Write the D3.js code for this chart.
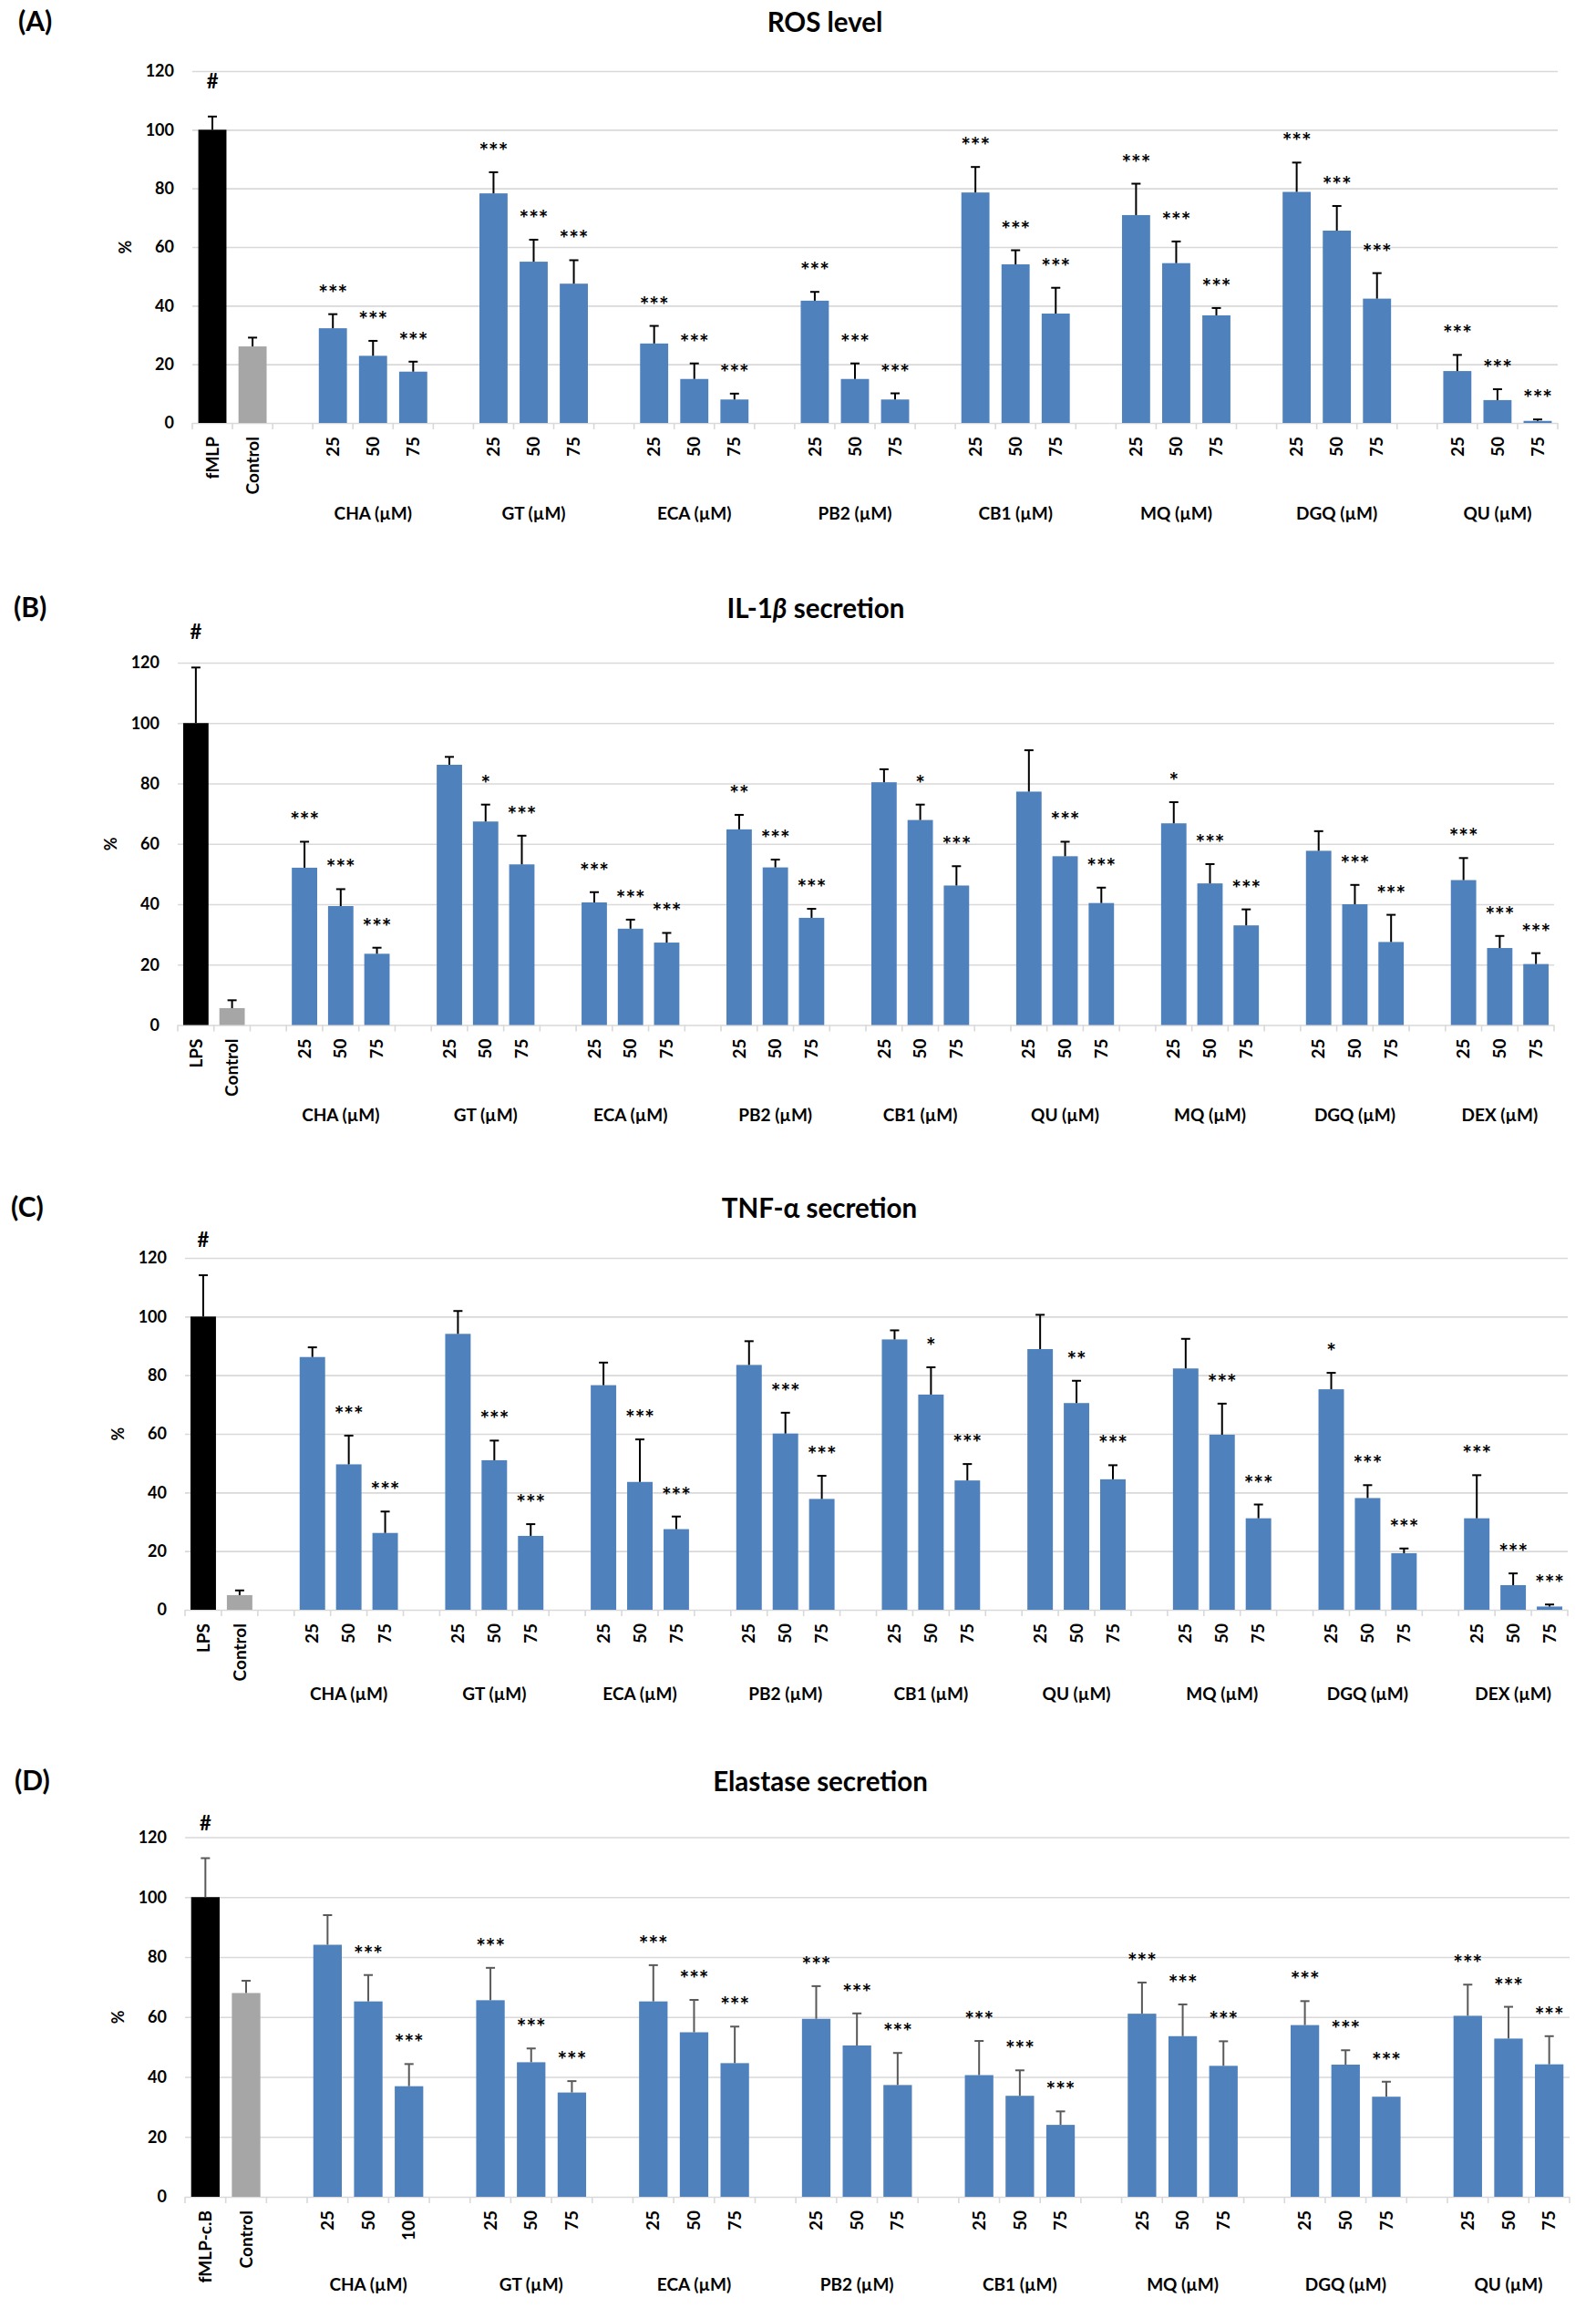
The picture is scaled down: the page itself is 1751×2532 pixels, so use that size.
<!DOCTYPE html>
<html>
<head>
<meta charset="utf-8">
<script src="https://cdn.jsdelivr.net/npm/d3@7"></script>
<style>
  body { margin: 0; background: #fff; }
  svg { display: block; }
  text { font-family: Lato, "Liberation Sans", sans-serif; }
</style>
</head>
<body>
<svg id="svg" width="1751" height="2532"></svg>
<script>
// ---- data (% of stimulated control) ----
const doses = ["25", "50", "75"];
const elaChaDoses = ["25", "50", "100"];

// (A) ROS level
const rosRefs = ["fMLP", "Control"];
const rosRefValues = [100, 26.1];
const rosRefErrors = [4.5, 3.0];
const rosGroups = ["CHA", "GT", "ECA", "PB2", "CB1", "MQ", "DGQ", "QU"];
const rosValues = [[32.3, 22.9, 17.5], [78.3, 55.0, 47.5], [27.1, 15.0, 8.0], [41.7, 15.0, 8.0],
                   [78.6, 54.1, 37.3], [70.9, 54.5, 36.7], [78.8, 65.6, 42.4], [17.7, 7.8, 0.7]];
const rosErrors = [[4.8, 5.1, 3.4], [7.2, 7.5, 8.0], [6.0, 5.3, 2.0], [3.0, 5.3, 2.1],
                   [8.7, 4.8, 8.8], [10.7, 7.4, 2.5], [10.0, 8.4, 8.7], [5.5, 3.7, 0.5]];
const rosStars = [["***", "***", "***"], ["***", "***", "***"], ["***", "***", "***"], ["***", "***", "***"],
                  ["***", "***", "***"], ["***", "***", "***"], ["***", "***", "***"], ["***", "***", "***"]];

// (B) IL-1b secretion
const il1Refs = ["LPS", "Control"];
const il1RefValues = [100, 5.6];
const il1RefErrors = [18.4, 2.6];
const il1Groups = ["CHA", "GT", "ECA", "PB2", "CB1", "QU", "MQ", "DGQ", "DEX"];
const il1Values = [[52.1, 39.4, 23.6], [86.2, 67.4, 53.2], [40.6, 31.9, 27.3], [64.8, 52.2, 35.5],
                   [80.4, 67.9, 46.2], [77.3, 55.9, 40.4], [66.8, 46.9, 33.0], [57.7, 40.0, 27.5],
                   [48.0, 25.5, 20.2]];
const il1Errors = [[8.6, 5.6, 2.0], [2.6, 5.6, 9.5], [3.4, 3.0, 3.2], [4.8, 2.6, 3.0],
                   [4.3, 5.1, 6.4], [13.7, 4.8, 5.1], [7.0, 6.4, 5.3], [6.5, 6.4, 9.0],
                   [7.3, 4.0, 3.6]];
const il1Stars = [["***", "***", "***"], ["", "*", "***"], ["***", "***", "***"], ["**", "***", "***"],
                  ["", "*", "***"], ["", "***", "***"], ["*", "***", "***"], ["", "***", "***"],
                  ["***", "***", "***"]];

// (C) TNF-a secretion
const tnfRefs = ["LPS", "Control"];
const tnfRefValues = [100, 5.0];
const tnfRefErrors = [14.1, 1.6];
const tnfGroups = ["CHA", "GT", "ECA", "PB2", "CB1", "QU", "MQ", "DGQ", "DEX"];
const tnfValues = [[86.2, 49.6, 26.2], [94.1, 51.0, 25.2], [76.6, 43.6, 27.5], [83.5, 60.1, 37.8],
                   [92.2, 73.4, 44.1], [88.9, 70.5, 44.5], [82.3, 59.7, 31.2], [75.2, 38.1, 19.3],
                   [31.2, 8.4, 1.1]];
const tnfErrors = [[3.3, 9.8, 7.3], [7.8, 6.7, 4.0], [7.7, 14.5, 4.3], [8.1, 7.1, 7.9],
                   [3.1, 9.3, 5.6], [11.7, 7.6, 4.8], [10.1, 10.6, 4.7], [5.6, 4.4, 1.6],
                   [14.7, 4.0, 0.7]];
const tnfStars = [["", "***", "***"], ["", "***", "***"], ["", "***", "***"], ["", "***", "***"],
                  ["", "*", "***"], ["", "**", "***"], ["", "***", "***"], ["*", "***", "***"],
                  ["***", "***", "***"]];

// (D) Elastase secretion
const elaRefs = ["fMLP-c.B", "Control"];
const elaRefValues = [100, 68.0];
const elaRefErrors = [13.0, 4.1];
const elaGroups = ["CHA", "GT", "ECA", "PB2", "CB1", "MQ", "DGQ", "QU"];
const elaValues = [[84.1, 65.2, 36.9], [65.6, 44.9, 34.8], [65.2, 54.9, 44.6], [59.4, 50.5, 37.3],
                   [40.6, 33.7, 24.0], [61.1, 53.6, 43.7], [57.3, 44.1, 33.4], [60.4, 52.8, 44.2]];
const elaErrors = [[9.9, 8.8, 7.4], [10.8, 4.6, 3.8], [12.1, 10.8, 12.2], [10.9, 10.7, 10.7],
                   [11.4, 8.5, 4.5], [10.4, 10.6, 8.2], [8.0, 4.8, 5.0], [10.4, 10.6, 9.4]];
const elaStars = [["", "***", "***"], ["***", "***", "***"], ["***", "***", "***"], ["***", "***", "***"],
                  ["***", "***", "***"], ["***", "***", "***"], ["***", "***", "***"], ["***", "***", "***"]];

const yTicks = [0, 20, 40, 60, 80, 100, 120];
const refColors = ["#000000", "#a6a6a6"];
const barColor = "#4f81bd";
const gridColor = "#d9d9d9";

const svg = d3.select("#svg");
svg.append("rect").attr("width", 1751).attr("height", 2532).attr("fill", "#fff");

function drawPanel(p) {
  const g = svg.append("g");

  // one slot per category, with an empty slot before every group
  const slots = [];
  p.refs.forEach((r, i) => slots.push({ key: "ref" + i, label: r, value: p.refValues[i],
    err: p.refErrors[i], color: refColors[i], mark: i === 0 ? "#" : "" }));
  p.groups.forEach((grp, gi) => {
    slots.push({ key: "gap" + gi, blank: true });
    p.doses[gi].forEach((d, di) => slots.push({ key: grp + d, label: d, group: gi,
      value: p.values[gi][di], err: p.errors[gi][di], color: barColor, mark: p.stars[gi][di] }));
  });

  const x = d3.scaleBand()
    .domain(slots.map(d => d.key))
    .range([p.left, p.right])
    .paddingInner(0.3)
    .paddingOuter(0.15);
  const y = d3.scaleLinear().domain([0, 120]).range([p.y0, p.y120]);
  const cx = d => x(d.key) + x.bandwidth() / 2;

  // grid + y labels
  const yAxis = d3.axisLeft(y).tickValues(yTicks).tickSize(-(p.right - p.left)).tickPadding(20);
  const ya = g.append("g").attr("transform", `translate(${p.left},0)`).call(yAxis);
  ya.select(".domain").remove();
  ya.selectAll("line").attr("stroke", gridColor).attr("stroke-width", 1.6);
  ya.selectAll("text").attr("font-size", 18).attr("font-weight", "bold").attr("fill", "#000")
    .attr("font-family", "Lato, sans-serif");

  // category boundary ticks
  const step = x.step();
  g.append("g").selectAll("line")
    .data(d3.range(slots.length + 1))
    .enter().append("line")
    .attr("x1", i => p.left + i * step).attr("x2", i => p.left + i * step)
    .attr("y1", p.y0).attr("y2", p.y0 + 7)
    .attr("stroke", gridColor).attr("stroke-width", 1.6);

  const data = slots.filter(d => !d.blank);

  g.append("g").selectAll("rect")
    .data(data).enter().append("rect")
    .attr("x", d => x(d.key))
    .attr("y", d => y(d.value))
    .attr("width", x.bandwidth())
    .attr("height", d => y(0) - y(d.value))
    .attr("fill", d => d.color);

  // error bars (upper only)
  const eb = g.append("g").attr("stroke", p.errColor).attr("stroke-width", 2);
  eb.selectAll("line.v").data(data).enter().append("line")
    .attr("x1", cx).attr("x2", cx)
    .attr("y1", d => y(d.value)).attr("y2", d => y(d.value + d.err));
  eb.selectAll("line.c").data(data).enter().append("line")
    .attr("x1", d => cx(d) - 5).attr("x2", d => cx(d) + 5)
    .attr("y1", d => y(d.value + d.err)).attr("y2", d => y(d.value + d.err));

  // significance marks
  const marks = data.filter(d => d.mark);
  g.append("g").selectAll("text")
    .data(marks.filter(d => d.mark === "#")).enter().append("text")
    .attr("x", cx)
    .attr("y", d => y(d.value + d.err) - 31)
    .attr("text-anchor", "middle")
    .attr("font-size", 22).attr("font-weight", "bold")
    .text(d => d.mark);
  g.append("g").selectAll("text")
    .data(marks.filter(d => d.mark !== "#")).enter().append("text")
    .attr("x", cx)
    .attr("y", d => y(d.value + d.err) - 14)
    .attr("text-anchor", "middle")
    .attr("font-family", "'DejaVu Sans', sans-serif")
    .attr("font-size", 25).attr("font-weight", "bold")
    .text(d => d.mark);

  // rotated category labels
  g.append("g").selectAll("text")
    .data(data).enter().append("text")
    .attr("transform", d => `translate(${cx(d)},${p.y0 + 15}) rotate(-90)`)
    .attr("text-anchor", "end")
    .attr("dy", "0.35em")
    .attr("font-family", "'Liberation Sans', Arial, sans-serif")
    .attr("font-size", 19).attr("font-weight", "bold")
    .text(d => d.label);

  // group labels
  g.append("g").selectAll("text")
    .data(p.groups).enter().append("text")
    .attr("x", (grp, gi) => d3.mean(data.filter(d => d.group === gi), cx))
    .attr("y", p.y0 + p.groupDy)
    .attr("text-anchor", "middle")
    .attr("font-size", 19).attr("font-weight", "bold")
    .text(grp => grp + " (\u00b5M)");

  // axis title
  g.append("text")
    .attr("transform", `translate(${p.left - 73},${(p.y0 + p.y120) / 2}) rotate(-90)`)
    .attr("text-anchor", "middle").attr("dy", "0.35em")
    .attr("font-size", 18).attr("font-weight", "bold")
    .text("%");

  // panel letter and title
  g.append("text").attr("x", p.letterX).attr("y", p.titleY - 1)
    .attr("font-size", 30).attr("font-weight", "bold").text(p.letter);
  const t = g.append("text").attr("x", p.titleX).attr("y", p.titleY)
    .attr("text-anchor", "middle").attr("font-size", 29.5).attr("font-weight", "bold");
  p.title.forEach(part => t.append("tspan").attr("font-style", part[1] ? "italic" : null).text(part[0]));
}

drawPanel({
  refs: rosRefs, refValues: rosRefValues, refErrors: rosRefErrors,
  groups: rosGroups, values: rosValues, errors: rosErrors, stars: rosStars,
  doses: rosGroups.map(() => doses),
  left: 211, right: 1709, y0: 464, y120: 78, groupDy: 106,
  titleX: 905, titleY: 35, letterX: 20, letter: "(A)", errColor: "#000",
  title: [["ROS level", false]]
});

drawPanel({
  refs: il1Refs, refValues: il1RefValues, refErrors: il1RefErrors,
  groups: il1Groups, values: il1Values, errors: il1Errors, stars: il1Stars,
  doses: il1Groups.map(() => doses),
  left: 195, right: 1705, y0: 1124.5, y120: 727, groupDy: 105,
  titleX: 895, titleY: 678, letterX: 15, letter: "(B)", errColor: "#000",
  title: [["IL-1", false], ["\u03b2", true], [" secretion", false]]
});

drawPanel({
  refs: tnfRefs, refValues: tnfRefValues, refErrors: tnfRefErrors,
  groups: tnfGroups, values: tnfValues, errors: tnfErrors, stars: tnfStars,
  doses: tnfGroups.map(() => doses),
  left: 203, right: 1720, y0: 1766, y120: 1380, groupDy: 99,
  titleX: 899, titleY: 1336, letterX: 12, letter: "(C)", errColor: "#000",
  title: [["TNF-\u03b1 secretion", false]]
});

drawPanel({
  refs: elaRefs, refValues: elaRefValues, refErrors: elaRefErrors,
  groups: elaGroups, values: elaValues, errors: elaErrors, stars: elaStars,
  doses: elaGroups.map((grp, i) => i === 0 ? elaChaDoses : doses),
  left: 203, right: 1722, y0: 2410, y120: 2015.5, groupDy: 103,
  titleX: 900, titleY: 1965, letterX: 16, letter: "(D)", errColor: "#595959",
  title: [["Elastase secretion", false]]
});
</script>
</body>
</html>
